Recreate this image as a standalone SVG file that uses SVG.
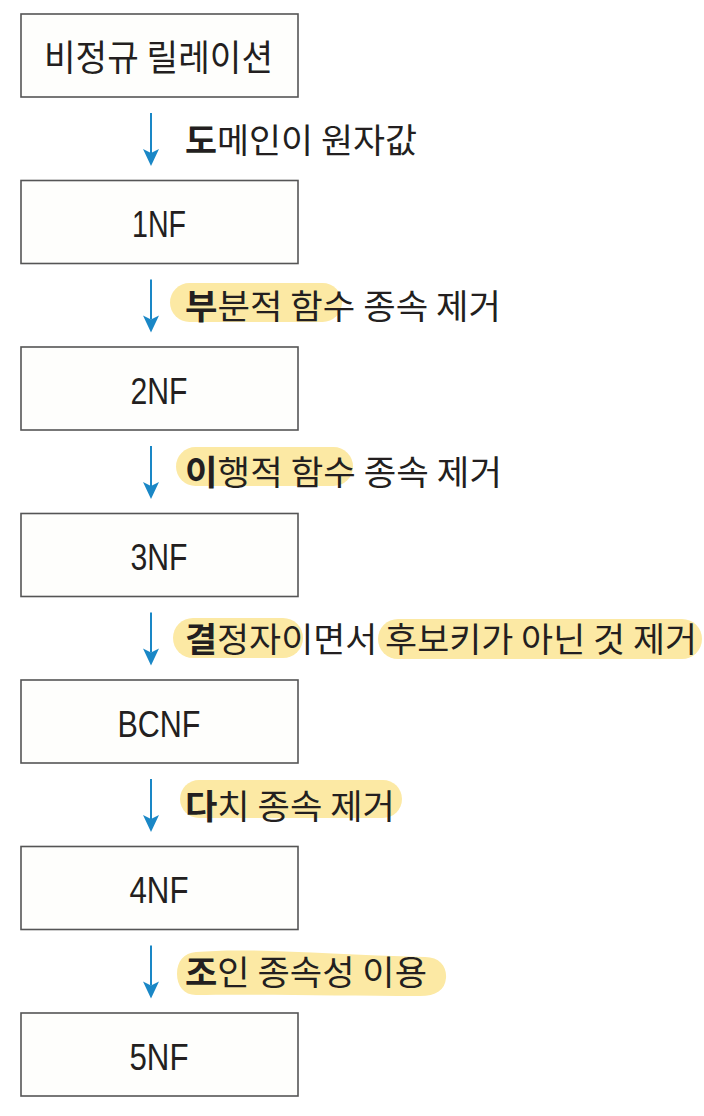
<svg xmlns="http://www.w3.org/2000/svg" xmlns:xlink="http://www.w3.org/1999/xlink" width="704" height="1116" viewBox="0 0 704 1116">
<style>
.box{fill:#fefefc;stroke:#555555;stroke-width:1.6}
.bt{font-family:"Liberation Sans",Arial,sans-serif;font-size:37px;fill:#231f20;text-anchor:middle}
.kt{font-family:"Noto Sans CJK KR","Noto Sans",sans-serif;font-size:34px;fill:#231f20}
.hl{fill:#fce9a4}
.b{font-weight:700}
</style>
<defs>
<g id="arr">
<line x1="0" y1="0" x2="0" y2="40" stroke="#1a87c6" stroke-width="2"/>
<path d="M-8 36 L0 53 L8 36 L0 40 Z" fill="#1a87c6"/>
</g>
</defs>
<rect width="704" height="1116" fill="#ffffff"/>
<g id="highlights">
<rect class="hl" x="170" y="283" width="172" height="39" rx="19.5"/>
<rect class="hl" x="176" y="447" width="177" height="39" rx="19.5"/>
<rect class="hl" x="173" y="618" width="130" height="40" rx="20"/>
<rect class="hl" x="378" y="619" width="324" height="40" rx="20"/>
<rect class="hl" x="180" y="780" width="222" height="38" rx="19"/>
<path class="hl" d="M196 952 C250 947 330 955 425 957 C440 957 447 967 446 978 C445 990 436 996 420 996 C340 996 260 994 196 995 C184 995 177 986 177 974 C177 961 184 953 196 952 Z"/>
</g>
<g id="connectors">
<use xlink:href="#arr" x="151" y="113"/>
<use xlink:href="#arr" x="151" y="279.5"/>
<use xlink:href="#arr" x="151" y="446"/>
<use xlink:href="#arr" x="151" y="612.5"/>
<use xlink:href="#arr" x="151" y="779"/>
<use xlink:href="#arr" x="151" y="945.5"/>
</g>
<g id="labels">
<text class="kt" x="185" y="153" textLength="232" lengthAdjust="spacingAndGlyphs"><tspan class="b">도</tspan>메인이 원자값</text>
<text class="kt" x="185" y="319" textLength="316" lengthAdjust="spacingAndGlyphs"><tspan class="b">부</tspan>분적 함수 종속 제거</text>
<text class="kt" x="185" y="485" textLength="317" lengthAdjust="spacingAndGlyphs"><tspan class="b">이</tspan>행적 함수 종속 제거</text>
<text class="kt" x="185" y="652" textLength="512" lengthAdjust="spacingAndGlyphs"><tspan class="b">결</tspan>정자이면서 후보키가 아닌 것 제거</text>
<text class="kt" x="185" y="819" textLength="210" lengthAdjust="spacingAndGlyphs"><tspan class="b">다</tspan>치 종속 제거</text>
<text class="kt" x="185" y="985" textLength="242" lengthAdjust="spacingAndGlyphs"><tspan class="b">조</tspan>인 종속성 이용</text>
</g>
<g id="n0"><rect class="box" x="21" y="14" width="277" height="83"/><text class="kt" x="44" y="71" style="font-size:36px" textLength="229" lengthAdjust="spacingAndGlyphs">비정규 릴레이션</text></g>
<g id="n1"><rect class="box" x="21" y="180.5" width="277" height="83"/><text class="bt" x="159" y="237" textLength="54" lengthAdjust="spacingAndGlyphs">1NF</text></g>
<g id="n2"><rect class="box" x="21" y="347" width="277" height="83"/><text class="bt" x="159" y="403.5" textLength="57" lengthAdjust="spacingAndGlyphs">2NF</text></g>
<g id="n3"><rect class="box" x="21" y="513.5" width="277" height="83"/><text class="bt" x="159" y="570" textLength="57" lengthAdjust="spacingAndGlyphs">3NF</text></g>
<g id="n4"><rect class="box" x="21" y="680" width="277" height="83"/><text class="bt" x="159" y="736.5" textLength="83" lengthAdjust="spacingAndGlyphs">BCNF</text></g>
<g id="n5"><rect class="box" x="21" y="846.5" width="277" height="83"/><text class="bt" x="159" y="903" textLength="59" lengthAdjust="spacingAndGlyphs">4NF</text></g>
<g id="n6"><rect class="box" x="21" y="1013" width="277" height="83"/><text class="bt" x="159" y="1069.5" textLength="59" lengthAdjust="spacingAndGlyphs">5NF</text></g>
</svg>
